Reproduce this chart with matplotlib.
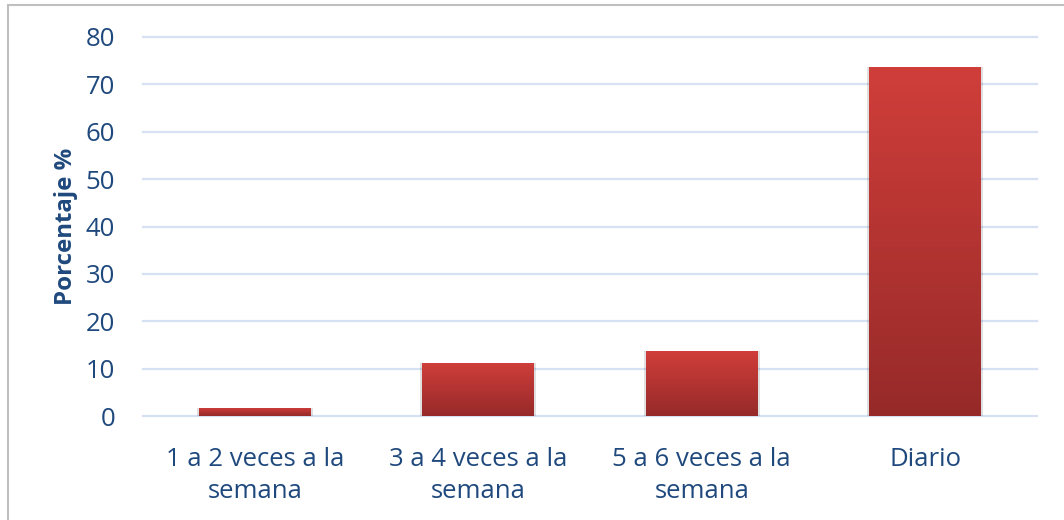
import matplotlib.pyplot as plt
import numpy as np
from matplotlib.patches import Rectangle
from matplotlib.colors import LinearSegmentedColormap

categories = ["1 a 2 veces a la\nsemana", "3 a 4 veces a la\nsemana",
              "5 a 6 veces a la\nsemana", "Diario"]
values = [1.7, 11.2, 13.7, 73.6]
yticks = [0, 10, 20, 30, 40, 50, 60, 70, 80]

text_col = "#1f497d"
plt.rcParams["font.family"] = ["Open Sans", "DejaVu Sans"]

fig = plt.figure(figsize=(10.64, 5.2), dpi=100)
ax = fig.add_axes([143 / 1064, 1 - 416 / 520, 894 / 1064, 379 / 520])

x = np.arange(len(categories))
bars = ax.bar(x, values, width=0.5, color="#b83735", zorder=3)

# vertical red gradient clipped to each bar
cmap = LinearSegmentedColormap.from_list("red", ["#962a29", "#d03e3a"])
grad = np.linspace(0, 1, 256).reshape(-1, 1)
for b in bars:
    x0, w, h = b.get_x(), b.get_width(), b.get_height()
    # soft shadow
    ax.add_patch(Rectangle((x0 - 0.01, -0.3), w + 0.02, h + 0.3,
                           color="#000000", alpha=0.12, lw=0, zorder=2))
    im = ax.imshow(grad, cmap=cmap, origin="lower", aspect="auto",
                   extent=[x0, x0 + w, 0, h], zorder=4)
    im.set_clip_path(b)

ax.set_xlim(-0.5, len(categories) - 0.5)
ax.set_ylim(0, 80)
ax.set_yticks(yticks)
ax.set_xticks(x)
ax.set_xticklabels(categories, linespacing=1.38)
ax.tick_params(axis="both", length=0, labelsize=18.5, colors=text_col)
ax.tick_params(axis="x", pad=22)
ax.tick_params(axis="y", pad=20)
ax.grid(axis="y", color="#d6e2f3", lw=1.6, zorder=0)
ax.set_axisbelow(True)
for s in ax.spines.values():
    s.set_visible(False)
for gl in ax.get_ygridlines():
    gl.set_clip_on(False)

ax.set_ylabel("Porcentaje %", fontsize=17.3, fontweight="bold", color=text_col,
              va="center")
ax.yaxis.set_label_coords(-0.0865, 0.5)

# outer chart frame
fig.patches.append(Rectangle((8 / 1064, -0.1), 1.2, 1 - 5 / 520 + 0.1,
                             transform=fig.transFigure, fill=False,
                             edgecolor="#bfbfbf", lw=1.5))

fig.savefig("out.png", dpi=100)
